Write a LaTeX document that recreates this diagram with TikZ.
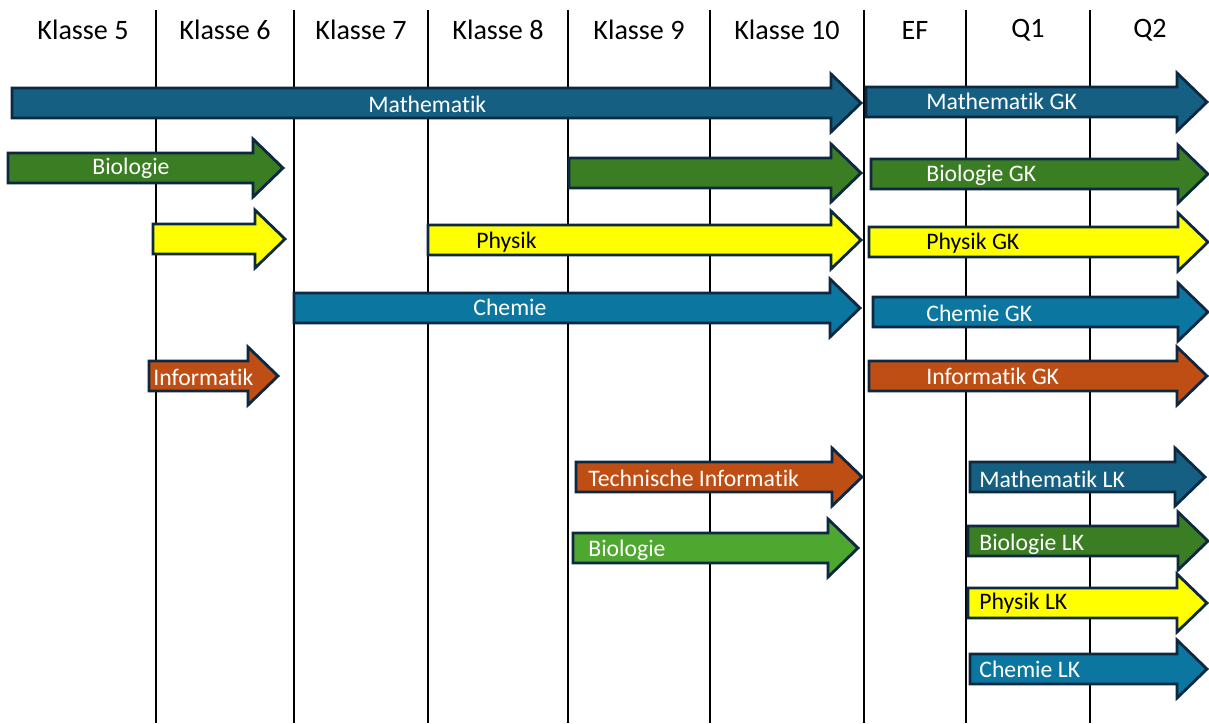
\documentclass[tikz,border=0pt]{standalone}
\usepackage{fontspec}
\setmainfont{Carlito}[Ligatures=NoCommon]
\usetikzlibrary{positioning,calc}
\definecolor{mathblau}{HTML}{156082}
\definecolor{biogruen}{HTML}{3A7D22}
\definecolor{hellgruen}{HTML}{4EA72E}
\definecolor{physgelb}{HTML}{FFFF00}
\definecolor{chemblau}{HTML}{0B76A0}
\definecolor{infrot}{HTML}{BF4E14}
\definecolor{rand}{HTML}{0E2841}
\tikzset{
  pfeil/.style={draw=rand, line width=1.6pt, line join=miter},
  kopf/.style={font=\fontsize{16}{19}\selectfont},
  lab/.style={anchor=west, inner sep=0pt, text height=1.35ex, text depth=0pt,
    yshift=-0.06cm, font=\fontsize{13.5}{16}\selectfont, text=white},
  labs/.style={lab, text=black}
}
\newcommand{\barrow}[4]{\draw[pfeil, fill=#4] (#1,#3-15) -- (#2-30,#3-15) -- (#2-30,#3-29) -- (#2,#3) -- (#2-30,#3+29) -- (#2-30,#3+15) -- (#1,#3+15) -- cycle}
\begin{document}
\begin{tikzpicture}[x=0.02cm, y=-0.02cm]
\useasboundingbox (0,0) rectangle (1209,723);

\foreach \xl in {156,294,428,568,710,864,966,1090}
  \draw[line width=1.1pt] (\xl,10) -- (\xl,723);

\node[kopf] (k5) at (83,30) {Klasse 5};
\node[kopf] (k6) at (225,30) {Klasse 6};
\node[kopf] (k7) at (361,30) {Klasse 7};
\node[kopf] (k8) at (498,30) {Klasse 8};
\node[kopf] (k9) at (639,30) {Klasse 9};
\node[kopf] (k10) at (787,30) {Klasse 10};
\node[kopf] (ef) at (915,30) {EF};
\node[kopf] (qa) at (1028,30) {Q1};
\node[kopf] (qb) at (1150,30) {Q2};

\barrow{12}{861}{103}{mathblau};
\barrow{866}{1207}{102}{mathblau};
\barrow{8}{283}{168}{biogruen};
\barrow{569}{861}{173}{biogruen};
\barrow{871}{1208}{174}{biogruen};
\barrow{153}{285}{239}{physgelb};
\barrow{428}{861}{240}{physgelb};
\barrow{869}{1208}{242}{physgelb};
\barrow{294}{860}{308}{chemblau};
\barrow{873}{1208}{312}{chemblau};
\barrow{149}{278}{376}{infrot};
\barrow{869}{1207}{376}{infrot};
\barrow{576}{862}{477}{infrot};
\barrow{573}{858}{548}{hellgruen};
\barrow{970}{1205}{477}{mathblau};
\barrow{968}{1208}{541}{biogruen};
\barrow{968}{1207}{603}{physgelb};
\barrow{970}{1207}{669}{chemblau};

\node[lab] (mathe) at (368,104) {Mathematik};
\node[lab] (mathegk) at (926,101) {Mathematik GK};
\node[lab] (bio) at (92,166) {Biologie};
\node[lab] (biogk) at (926,173) {Biologie GK};
\node[labs] (phy) at (476,240) {Physik};
\node[labs] (phygk) at (926,241) {Physik GK};
\node[lab] (che) at (473,307) {Chemie};
\node[lab] (chegk) at (926,313) {Chemie GK};
\node[lab] (inf) at (153,377) {Informatik};
\node[lab] (infgk) at (926,376) {Informatik GK};
\node[lab] (techinf) at (588,478) {Technische Informatik};
\node[lab] (biodiff) at (588,548) {Biologie};
\node[lab] (mathelk) at (979,479) {Mathematik LK};
\node[lab] (biolk) at (979,542) {Biologie LK};
\node[labs] (phylk) at (979,601) {Physik LK};
\node[lab] (chelk) at (979,669) {Chemie LK};

\end{tikzpicture}
\end{document}
